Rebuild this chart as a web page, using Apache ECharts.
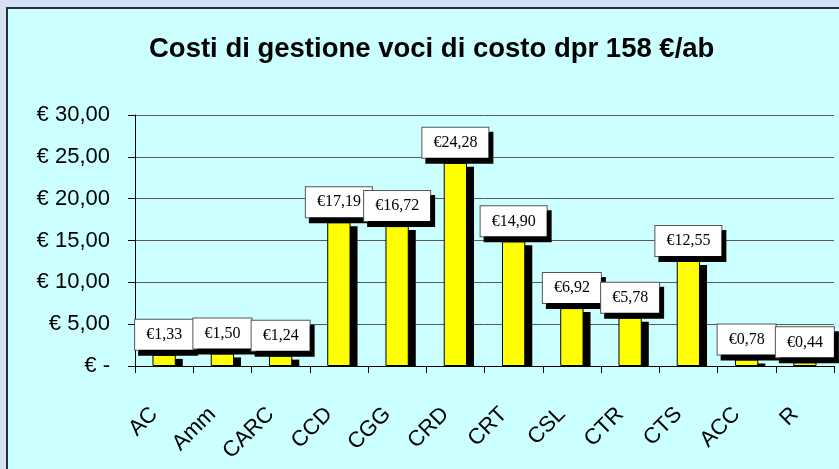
<!DOCTYPE html>
<html>
<head>
<meta charset="utf-8">
<script src="https://cdn.jsdelivr.net/npm/echarts@6/dist/echarts.min.js"></script>
<style>
  html, body { margin: 0; padding: 0; background: #d5e1f4; }
  #main { width: 839px; height: 469px; }
</style>
</head>
<body>
<div id="main"></div>
<script>
// dati del grafico
var categorie = ['AC', 'Amm', 'CARC', 'CCD', 'CGG', 'CRD', 'CRT', 'CSL', 'CTR', 'CTS', 'ACC', 'R'];
var costi = [1.33, 1.50, 1.24, 17.19, 16.72, 24.28, 14.90, 6.92, 5.78, 12.55, 0.78, 0.44];
var titolo = 'Costi di gestione voci di costo dpr 158 €/ab';

function euro(v) {
  return v.toFixed(2).replace('.', ',');
}

var myChart = echarts.init(document.getElementById('main'));

// ombre delle barre (serie custom, sotto le barre)
var ombre = [];
for (var i = 0; i < costi.length; i++) {
  ombre.push([i, costi[i]]);
}

function disegnaOmbra(params, api) {
  var top = api.coord([api.value(0), api.value(1)]);
  var base = api.coord([api.value(0), 0]);
  var w = api.size([1, 0])[0] * 0.4;
  var h = Math.max(base[1] - top[1] - 4, 0);
  return {
    type: 'rect',
    shape: { x: top[0] - w / 2 + 7, y: top[1] + 4, width: w, height: h },
    style: { fill: '#000' }
  };
}

var option = {
  backgroundColor: '#d5e1f4',
  animation: false,
  graphic: [
    {
      // riquadro del grafico
      type: 'rect',
      z: -10,
      shape: { x: 7, y: 8, width: 860, height: 480 },
      style: { fill: '#ccffff', stroke: '#2b3034', lineWidth: 2 }
    }
  ],
  title: {
    text: titolo,
    left: 144,
    top: 30,
    textStyle: {
      fontFamily: 'Liberation Sans, Arial',
      fontSize: 27.5,
      fontWeight: 'bold',
      color: '#000'
    }
  },
  grid: {
    left: 135,
    top: 115,
    right: 5,
    bottom: 103
  },
  xAxis: {
    type: 'category',
    data: categorie,
    z: 5,
    axisLine: { lineStyle: { color: '#000', width: 1 } },
    axisTick: { show: true, length: 7, lineStyle: { color: '#000' } },
    axisLabel: {
      rotate: 45,
      margin: 35,
      padding: [0, 14, 0, 0],
      color: '#000',
      fontFamily: 'Liberation Sans, Arial',
      fontSize: 22
    }
  },
  yAxis: {
    type: 'value',
    min: 0,
    max: 30,
    interval: 5,
    axisLine: { show: true, lineStyle: { color: '#000', width: 1 } },
    axisTick: { show: true, length: 7, lineStyle: { color: '#000' } },
    splitLine: { lineStyle: { color: '#5a5a5a', width: 1 } },
    axisLabel: {
      margin: 25,
      color: '#000',
      fontFamily: 'Liberation Sans, Arial',
      fontSize: 22,
      formatter: function (v) {
        return v === 0 ? '€ -' : '€ ' + euro(v);
      }
    }
  },
  series: [
    {
      type: 'custom',
      data: ombre,
      encode: { x: 0, y: 1 },
      renderItem: disegnaOmbra,
      z: 1,
      silent: true
    },
    {
      type: 'bar',
      data: costi,
      barWidth: '40%',
      z: 2,
      itemStyle: {
        color: '#ffff00',
        borderColor: '#000',
        borderWidth: 1
      },
      label: {
        show: true,
        position: 'top',
        distance: 5,
        formatter: function (p) {
          return '€' + euro(p.value);
        },
        fontFamily: 'Liberation Serif, Times New Roman',
        fontSize: 16,
        lineHeight: 16,
        color: '#000',
        backgroundColor: '#fff',
        borderColor: '#555',
        borderWidth: 1,
        padding: [7, 11, 7, 11],
        shadowColor: '#000',
        shadowBlur: 0,
        shadowOffsetX: 4,
        shadowOffsetY: 5
      }
    }
  ]
};

myChart.setOption(option);
</script>
</body>
</html>
